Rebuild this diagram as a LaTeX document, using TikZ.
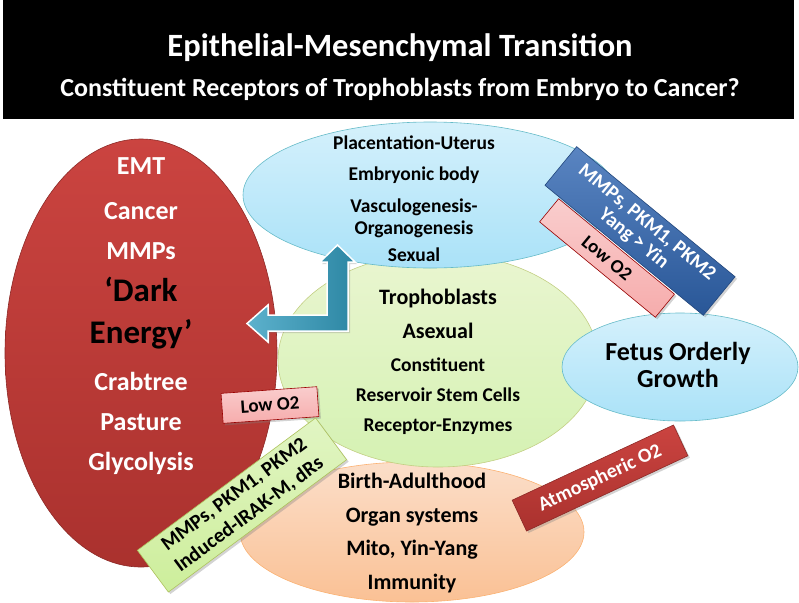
\documentclass[tikz,border=0pt]{standalone}
\usepackage{fontspec}
\setmainfont{Carlito}
\usepackage{xcolor}
\usetikzlibrary{shapes.geometric,shadows}

\definecolor{emtred}{RGB}{200,58,54}
\definecolor{skyblue}{RGB}{170,226,248}
\definecolor{limegreen}{RGB}{224,241,188}
\definecolor{peach}{RGB}{249,200,165}
\definecolor{deepblue}{RGB}{48,102,178}
\definecolor{rosepink}{RGB}{246,172,172}
\definecolor{paleleaf}{RGB}{205,238,155}
\definecolor{tealarrow}{RGB}{52,158,192}

\newcommand{\darkline}[1]{{\color{black}\fontsize{33}{42}\selectfont #1}}
\newcommand{\bigline}[1]{{\fontsize{22}{30}\selectfont #1}}

\begin{document}
\begin{tikzpicture}[x=1pt, y=-1pt,
    blob/.style={ellipse, draw, line width=0.6pt, inner sep=0pt},
    lbl/.style={font=\bfseries\fontsize{19.5}{22}\selectfont, align=center, text=black},
    tag/.style={draw, line width=0.6pt, inner sep=0pt, align=center,
        drop shadow={opacity=0.35, shadow xshift=2pt, shadow yshift=-2pt}},
]
    \useasboundingbox (0,0) rectangle (799,602);

    % title banner
    \fill[black] (3,0) rectangle (794,119);
    \node[text=white, font=\bfseries\fontsize{32.5}{36}\selectfont] (title) at (400,48) {Epithelial-Mesenchymal Transition};
    \node[text=white, font=\bfseries\fontsize{26}{28}\selectfont] (subtitle) at (400,89) {Constituent Receptors of Trophoblasts from Embryo to Cancer?};

    % ellipses
    \node[blob, draw=emtred!70!black, top color=emtred!95!white, bottom color=emtred!85!black,
        minimum width=272pt, minimum height=428pt] (cancer) at (141,353) {};
    \node[blob, draw=peach!70!orange, top color=peach!60!white, bottom color=peach!90!orange,
        minimum width=344pt, minimum height=140pt] (adult) at (412,532) {};
    \node[blob, draw=limegreen!70!olive, top color=limegreen!70!white, bottom color=limegreen!95!green,
        minimum width=320pt, minimum height=214pt] (troph) at (438,360) {};
    \node[blob, draw=skyblue!60!teal, top color=skyblue!50!white, bottom color=skyblue,
        minimum width=374pt, minimum height=146pt] (embryo) at (430,195) {};
    \node[blob, draw=skyblue!60!teal, top color=skyblue!50!white, bottom color=skyblue,
        minimum width=236pt, minimum height=108pt] (fetus) at (680,367) {};

    % texts
    \node[lbl, text=white, font=\bfseries\fontsize{26}{42}\selectfont] (cancertxt) at (141,316)
        {EMT\\[3pt]Cancer\\[-2pt]MMPs\\\darkline{`Dark}\\\darkline{Energy'}\\[5pt]Crabtree\\[-2pt]Pasture\\[-2pt]Glycolysis};
    \node[lbl] (embryotxt) at (414,199)
        {Placentation-Uterus\\[9pt]Embryonic body\\[10pt]Vasculogenesis-\\Organogenesis\\[5pt]Sexual};
    \node[lbl, font=\bfseries\fontsize{19.5}{30}\selectfont] (trophtxt) at (438,362)
        {\bigline{Trophoblasts}\\[4pt]\bigline{Asexual}\\[3pt]Constituent\\Reservoir Stem Cells\\Receptor-Enzymes};
    \node[lbl, font=\bfseries\fontsize{22}{33.5}\selectfont] (adulttxt) at (412,533)
        {Birth-Adulthood\\Organ systems\\Mito, Yin-Yang\\Immunity};
    \node[lbl, font=\bfseries\fontsize{26}{27}\selectfont] (fetustxt) at (678,365)
        {Fetus Orderly\\Growth};

    % block arrow out of the trophoblasts
    \draw[white, line width=1.5pt, left color=tealarrow!80!white, right color=tealarrow!85!black,
        drop shadow={opacity=0.3, shadow xshift=2pt, shadow yshift=-2pt}]
        (247,323.5) -- (268,305) -- (268,315) -- (327,315) -- (327,262) -- (320,262) -- (337.5,245)
        -- (355,262) -- (348,262) -- (348,331) -- (268,331) -- (268,342) -- cycle;

    % tags
    \node[tag, draw=red!60!black, top color=rosepink!60!white, bottom color=rosepink,
        minimum width=96pt, minimum height=30pt, rotate=4, lbl, font=\bfseries\fontsize{19}{20}\selectfont]
        (lowleft) at (270,405) {Low O2};
    \node[tag, draw=paleleaf!60!olive, top color=paleleaf!60!white, bottom color=paleleaf,
        minimum width=222pt, minimum height=52pt, rotate=36.6, lbl, font=\bfseries\fontsize{20.5}{25}\selectfont]
        (induced) at (242,505) {MMPs, PKM1, PKM2\\Induced-IRAK-M, dRs};
    \node[tag, draw=emtred!70!black, top color=emtred!95!white, bottom color=emtred!85!black,
        minimum width=178pt, minimum height=34pt, rotate=25, text=white, font=\bfseries\fontsize{20}{22}\selectfont]
        (atmos) at (600,478) {Atmospheric O2};
    \node[tag, draw=red!60!black, top color=rosepink!60!white, bottom color=rosepink,
        minimum width=150pt, minimum height=30pt, rotate=-39.5, lbl, font=\bfseries\fontsize{19}{20}\selectfont]
        (lowright) at (607,258) {Low O2};
    \node[tag, draw=deepblue!70!black, top color=deepblue!80!white, bottom color=deepblue!85!black,
        minimum width=205pt, minimum height=50pt, rotate=-39.4, text=white, font=\bfseries\fontsize{20}{21}\selectfont]
        (yangyin) at (640,231) {MMPs, PKM1, PKM2\\Yang > Yin};
\end{tikzpicture}
\end{document}
